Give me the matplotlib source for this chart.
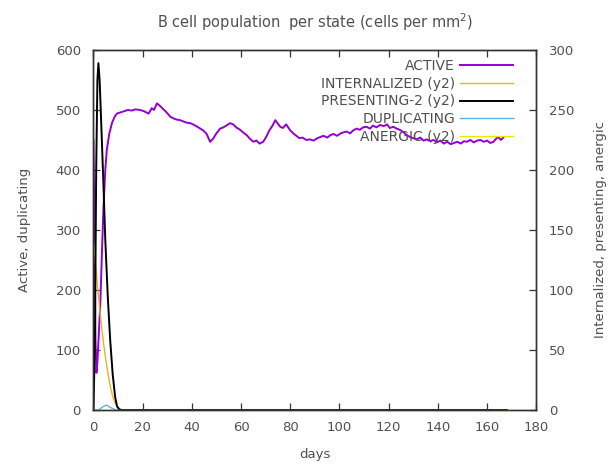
import matplotlib
matplotlib.use("Agg")
import matplotlib.pyplot as plt

# ---- data -------------------------------------------------------------
active_days = [0, 0.4, 0.8, 1.2, 1.6, 2.2, 2.8, 3.5, 4.1, 4.8, 5.4, 6.4, 7.5,
               8.5, 9.5, 11, 12.5, 14, 15.5, 17, 18.9, 20.5, 22.4, 23.7, 24.6,
               25.8, 27, 28.2, 29.5, 31.2, 32.5, 33.8, 35.2, 36.5, 37.8, 39.3,
               40.5, 41.8, 43.4, 44.6, 46, 47.4, 48.6, 49.8, 51.5, 52.8, 54,
               55.5, 56.8, 58, 59.6, 61, 62.3, 63.6, 65, 66.2, 67.5, 69, 70.2,
               71.5, 72.8, 73.9, 75, 75.9, 77, 78.3, 80, 81.5, 83.7, 85, 86.5,
               88, 89.5, 91, 92.2, 93.5, 95, 96.3, 97.6, 99, 100.5, 101.8, 103,
               104.3, 105.6, 107, 108.3, 109.6, 111, 112.4, 113.6, 115, 116.5,
               118, 119.3, 120.5, 121.9, 123.2, 124.5, 126, 127.4, 128.7, 130,
               131.4, 132.8, 134.2, 135.5, 136.9, 138.3, 139.6, 141, 142.4,
               143.8, 145.2, 146.5, 147.9, 149.3, 150.6, 151.8, 153.2, 154.6,
               156, 157.3, 158.7, 160, 161.3, 162.6, 163.6, 164.6, 165.6, 166.6]
active = [450, 300, 120, 62, 80, 130, 180, 270, 340, 400, 433, 460, 478,
          488, 494, 496, 498, 500, 499, 501, 500, 498, 494, 503, 500,
          511, 507, 502, 497, 489, 486, 484, 483, 481, 479, 478,
          476, 473, 469, 466, 460, 447, 452, 460, 469, 471, 474,
          478, 476, 471, 467, 462, 458, 452, 447, 449, 444, 447, 455,
          466, 474, 483, 477, 472, 470, 476, 466, 460, 453, 454, 450,
          451, 449, 453, 455, 457, 454, 458, 460, 457, 461, 463, 464,
          461, 466, 469, 467, 471, 472, 469, 474, 471, 475,
          473, 476, 470, 472, 469, 467, 463, 458, 455, 453,
          451, 454, 449, 451, 448, 450, 446, 449, 444,
          447, 443, 445, 447, 444, 448, 447, 450, 446,
          449, 450, 447, 449, 445, 447, 452, 455, 450, 454]

dup_days = [0, 2, 3, 4.5, 5.5, 6.5, 8, 9, 168]
duplicating = [0, 0, 3, 7, 8, 5, 2, 0, 0]

int_days = [0, 0.5, 1, 2, 3, 4, 5, 6, 7, 8, 9, 10, 11, 12, 168]
internalized = [140, 130, 118, 95, 75, 57, 42, 29, 18, 10, 5, 2, 0.5, 0, 0]

pres_days = [0, 0.6, 1.1, 1.6, 2.0, 2.5, 3.4, 4.1, 4.8, 5.8, 6.8, 7.8, 8.8,
             9.6, 10.5, 11.5, 168]
presenting = [0, 60, 200, 275, 289, 275, 225, 185, 142, 95, 58, 30, 11,
              3, 0.5, 0, 0]

anergic_days = [0, 168]
anergic = [0, 0]

x_ticks = list(range(0, 181, 20))
y_ticks = list(range(0, 601, 100))
y2_ticks = list(range(0, 301, 50))

# ---- styling ----------------------------------------------------------
c_active = "#9400d3"
c_int = "#e6b422"
c_pres = "#000000"
c_dup = "#56b4e9"
c_anerg = "#e8e800"
frame = "#333333"
text_c = "#505050"

plt.rcParams["font.family"] = ["DejaVu Sans"]

fig = plt.figure(figsize=(6.15, 4.67), dpi=100)
ax = fig.add_axes([0.152, 0.122, 0.720, 0.771])
ax2 = ax.twinx()

l_act, = ax.plot(active_days, active, color=c_active, lw=1.4, label="ACTIVE")
l_dup, = ax.plot(dup_days, duplicating, color=c_dup, lw=1.0, label="DUPLICATING")
l_int, = ax2.plot(int_days, internalized, color=c_int, lw=1.0,
                  label="INTERNALIZED (y2)")
l_pres, = ax2.plot(pres_days, presenting, color=c_pres, lw=1.4,
                   label="PRESENTING-2 (y2)")
l_an, = ax2.plot(anergic_days, anergic, color=c_anerg, lw=1.0,
                 label="ANERGIC (y2)")

ax.set_xlim(0, 180)
ax.set_ylim(0, 600)
ax2.set_ylim(0, 300)
ax.set_xticks(x_ticks)
ax.set_yticks(y_ticks)
ax2.set_yticks(y2_ticks)

for a in (ax, ax2):
    for s in a.spines.values():
        s.set_color(frame)
        s.set_linewidth(1.0)

ax.tick_params(axis="x", direction="in", top=True, length=5, width=0.9,
               color=frame, labelsize=9.5, labelcolor=text_c, pad=8)
ax.tick_params(axis="y", direction="in", right=False, length=5, width=0.9,
               color=frame, labelsize=9.5, labelcolor=text_c, pad=9)
ax2.tick_params(axis="y", direction="in", length=5, width=0.9,
                color=frame, labelsize=9.5, labelcolor=text_c, pad=9)

ax.set_xlabel("days", fontsize=9.5, color=text_c, labelpad=10)
ax.set_ylabel("Active, duplicating", fontsize=9.5, color=text_c, labelpad=18)
ax2.set_ylabel("Internalized, presenting, anergic", fontsize=9.5,
               color=text_c, labelpad=14)
ax.set_title("B cell population  per state (cells per mm$^2$)", fontsize=10.5,
             color=text_c, pad=16)

handles = [l_act, l_int, l_pres, l_dup, l_an]
leg = ax2.legend(handles=handles, loc="upper right",
                 bbox_to_anchor=(0.948, 0.975), frameon=False,
                 markerfirst=False, fontsize=10, handlelength=3.8,
                 handletextpad=0.4, labelspacing=0.27, borderpad=0,
                 borderaxespad=0)
for t in leg.get_texts():
    t.set_color(text_c)

fig.savefig("out.png", dpi=100)
